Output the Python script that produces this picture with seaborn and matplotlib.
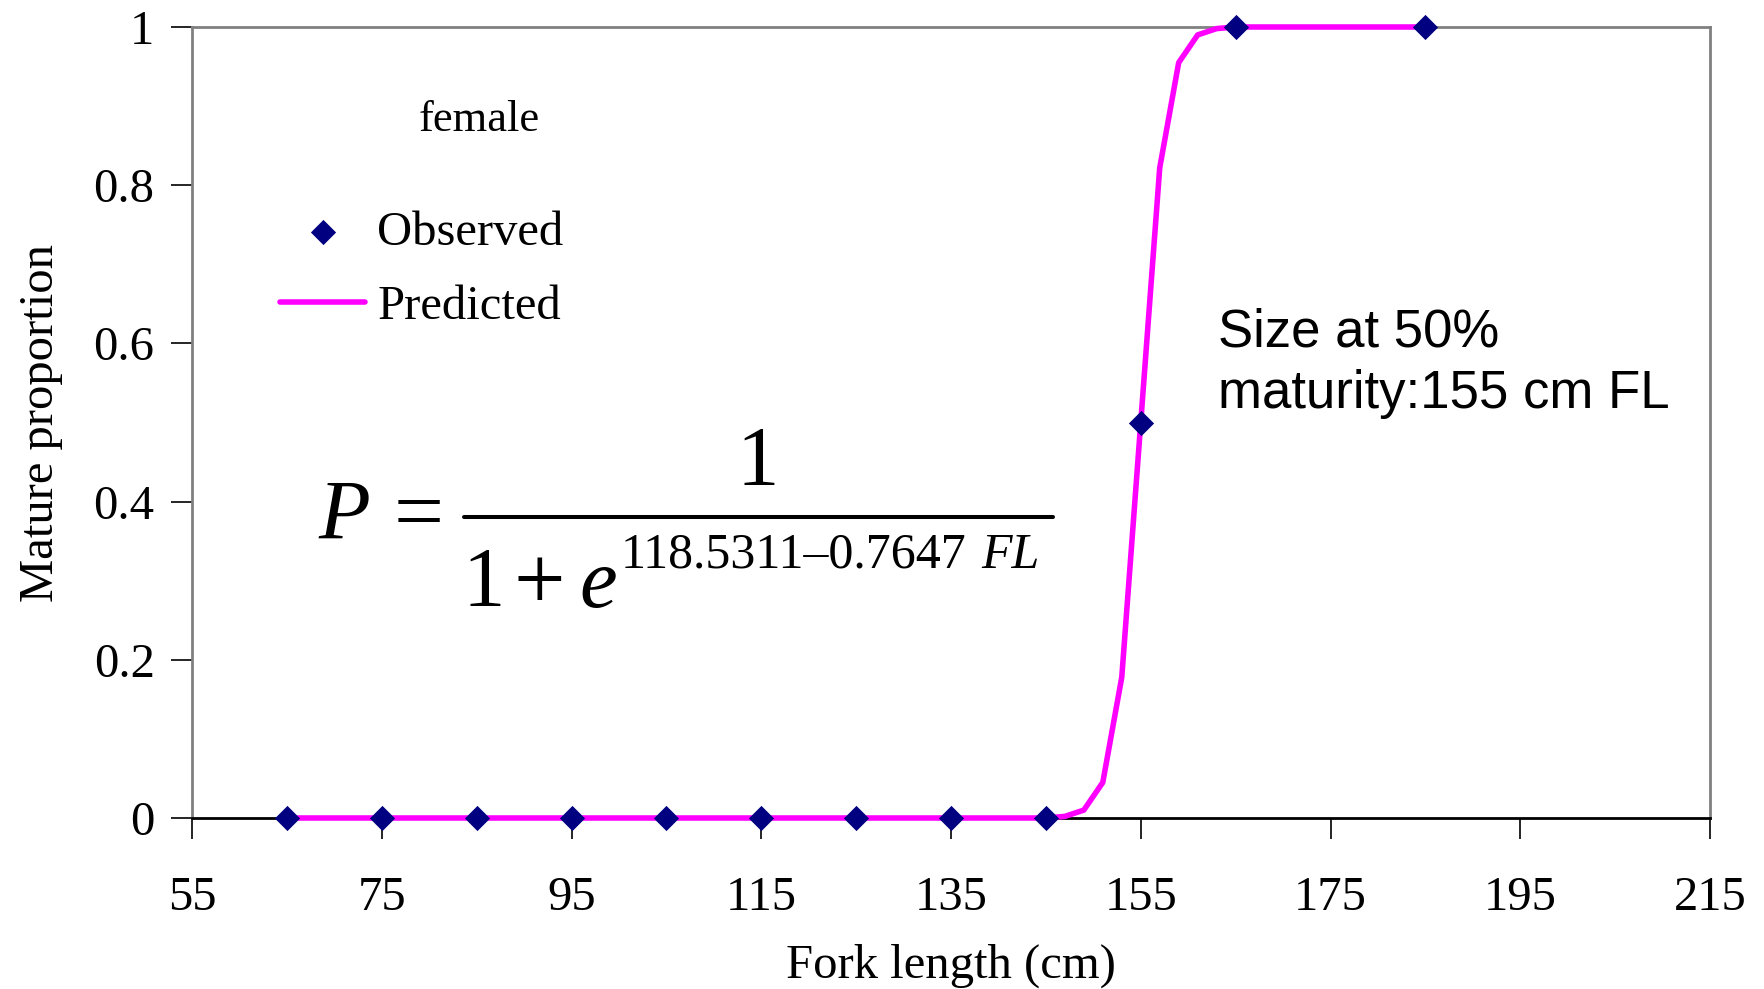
import matplotlib
matplotlib.use("Agg")
import matplotlib.pyplot as plt
import seaborn as sns
import pandas as pd
from matplotlib.lines import Line2D

# Данные: наблюдаемая доля зрелых особей
obs_fl = [65, 75, 85, 95, 105, 115, 125, 135, 145, 155, 165, 185]
obs_p = [0, 0, 0, 0, 0, 0, 0, 0, 0, 0.5, 1, 1]

# Предсказанная кривая
pred_fl = [65, 145, 147, 149, 151, 153, 155, 157, 159, 161, 163, 165, 185]
pred_p = [0, 0, 0.002, 0.010, 0.045, 0.178, 0.50, 0.822, 0.955, 0.990, 0.998, 1.0, 1.0]

x_ticks = [55, 75, 95, 115, 135, 155, 175, 195, 215]
y_ticks = [0, 0.2, 0.4, 0.6, 0.8, 1]
y_tick_labels = ["0", "0.2", "0.4", "0.6", "0.8", "1"]

obs = pd.DataFrame({"fl": obs_fl, "p": obs_p})
pred = pd.DataFrame({"fl": pred_fl, "p": pred_p})

sns.set_style("white")
plt.rcParams["font.family"] = ["Liberation Serif", "DejaVu Serif"]
for key in ["text.color", "axes.labelcolor", "xtick.color", "ytick.color"]:
    plt.rcParams[key] = "black"

W, H = 1764, 989
fig = plt.figure(figsize=(W / 100, H / 100), dpi=100)
ax = fig.add_axes([192 / W, 1 - 818 / H, 1518 / W, 791 / H])

sns.scatterplot(data=obs, x="fl", y="p", ax=ax, marker="D", s=165, color="#000080",
                linewidth=0, zorder=4, clip_on=False, label="Observed")
sns.lineplot(data=pred, x="fl", y="p", ax=ax, color="#FF00FF", linewidth=4,
             zorder=3, clip_on=False, label="Predicted")

ax.set_xlim(55, 215)
ax.set_ylim(0, 1)
ax.set_xticks(x_ticks)
ax.set_xticklabels([str(v) for v in x_ticks])
ax.set_yticks(y_ticks)
ax.set_yticklabels(y_tick_labels)
ax.tick_params(axis="both", labelsize=35, direction="out", length=15, width=1.2,
               color="black", bottom=True, left=True)
ax.tick_params(axis="x", pad=27)
ax.tick_params(axis="y", pad=12)

for side in ["top", "right", "left"]:
    ax.spines[side].set_color("#808080")
    ax.spines[side].set_linewidth(2)
ax.spines["bottom"].set_color("black")
ax.spines["bottom"].set_linewidth(2)

ax.set_xlabel("Fork length (cm)", fontsize=35, labelpad=17)
ax.set_ylabel("Mature proportion", fontsize=35, labelpad=22)

# Легенда
handles, labels = ax.get_legend_handles_labels()
ax.legend(handles, labels, loc="upper left", bbox_to_anchor=(0.058, 0.768),
          frameon=False, fontsize=35, handlelength=1.75, handletextpad=0.25,
          labelspacing=0.62, borderpad=0, borderaxespad=0, scatterpoints=1)

ax.text(0.189, 0.882, "female", transform=ax.transAxes, fontsize=32,
        ha="center", va="center")

ax.text(0.676, 0.575, "Size at 50%\nmaturity:155 cm FL", transform=ax.transAxes,
        fontsize=38, ha="left", va="center", family="Liberation Sans",
        linespacing=1.3)


# Формула, собранная по частям (координаты в пикселях рисунка)
def ftext(x, y, s, **kw):
    fig.text(x / W, 1 - y / H, s, va="baseline", **kw)


ftext(318, 539, "P", fontsize=61, style="italic", ha="left")
ftext(419, 540, "=", fontsize=64, ha="center")
fig.add_artist(Line2D([464 / W, 1053 / W], [1 - 517 / H, 1 - 517 / H],
                      color="black", linewidth=2.9))
ftext(758, 485, "1", fontsize=61, ha="center")
ftext(462, 606, "1", fontsize=61, ha="left")
ftext(539, 609, "+", fontsize=66, ha="center")
ftext(579, 607, "e", fontsize=61, style="italic", ha="left")
ftext(621, 568, "118.5311–0.7647", fontsize=36, ha="left")
ftext(1040, 568, "FL", fontsize=36, style="italic", ha="right")

fig.savefig("out.png", dpi=100)
